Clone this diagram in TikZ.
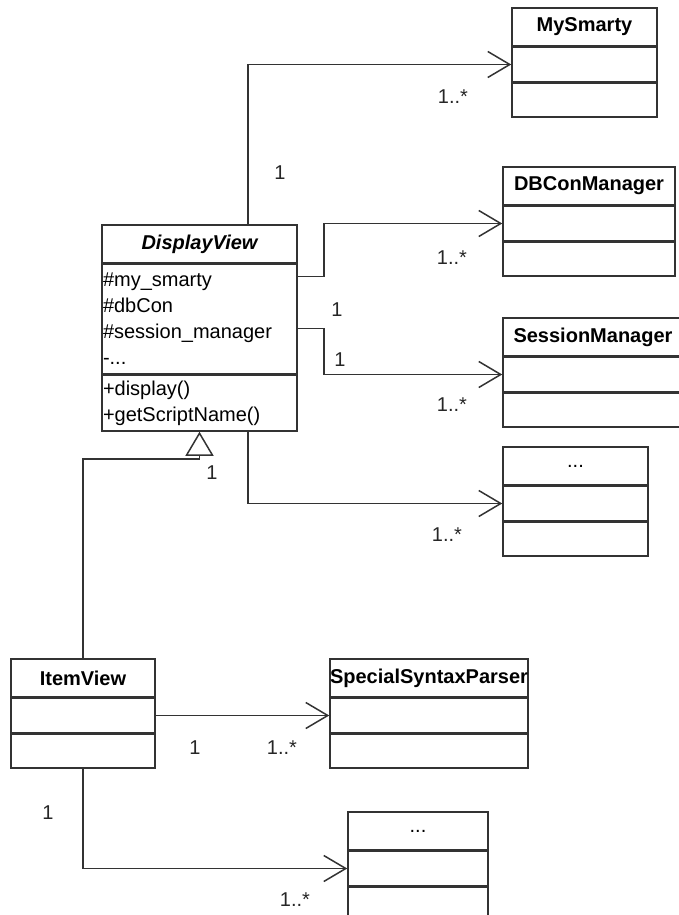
\documentclass[tikz,border=0pt]{standalone}
\usepackage{fontspec}
\setmainfont{Liberation Sans}
\usetikzlibrary{positioning,arrows.meta}
\begin{document}
\begin{tikzpicture}[
  x=1pt, y=-1pt,
  line width=1.5pt, draw=black!80,
  font=\fontsize{20}{26}\selectfont,
  head/.style={draw, font=\fontsize{20}{26}\selectfont\bfseries, inner sep=0pt, minimum height=38pt},
  part/.style={draw, inner sep=0pt, minimum height=34pt},
  assoc/.style={-{Straight Barb[length=22pt,width=26pt]}},
  inherit/.style={-{Triangle[open,length=24pt,width=28pt,fill=white]}},
  mult/.style={inner sep=1pt, text=black!85}
]
\useasboundingbox (0,0) rectangle (678,915);

\node[head, minimum width=145pt] (mysmarty) at (584.5,27) {MySmarty};
\node[part, minimum width=145pt, below=0pt of mysmarty] (mysmarty-a) {};
\node[part, minimum width=145pt, below=0pt of mysmarty-a] (mysmarty-o) {};

\node[head, minimum width=172pt] (dbcon) at (589,186) {DBConManager};
\node[part, minimum width=172pt, below=0pt of dbcon] (dbcon-a) {};
\node[part, minimum width=172pt, below=0pt of dbcon-a] (dbcon-o) {};

\node[head, minimum width=180pt] (session) at (593,337) {SessionManager};
\node[part, minimum width=180pt, below=0pt of session] (session-a) {};
\node[part, minimum width=180pt, below=0pt of session-a] (session-o) {};

\node[head, minimum width=145pt, font=\fontsize{20}{26}\selectfont] (dots1) at (575.5,466) {...};
\node[part, minimum width=145pt, below=0pt of dots1] (dots1-a) {};
\node[part, minimum width=145pt, below=0pt of dots1-a] (dots1-o) {};

\node[head, minimum width=195pt, font=\fontsize{20}{26}\selectfont\bfseries\itshape] (dview) at (199.5,244) {DisplayView};
\node[draw, below=0pt of dview, inner xsep=1pt, inner ysep=0pt, text width=193pt, align=left, minimum height=109pt] (dview-a)
  {\#my\_smarty\\\#dbCon\\\#session\_manager\\-...};
\node[draw, below=0pt of dview-a, inner xsep=1pt, inner ysep=0pt, text width=193pt, align=left, minimum height=56pt] (dview-o)
  {+display()\\+getScriptName()};

\node[head, minimum width=144pt] (item) at (83,678) {ItemView};
\node[part, minimum width=144pt, below=0pt of item] (item-a) {};
\node[part, minimum width=144pt, below=0pt of item-a] (item-o) {};

\node[head, minimum width=198pt] (ssp) at (429,678) {SpecialSyntaxParser};
\node[part, minimum width=198pt, below=0pt of ssp] (ssp-a) {};
\node[part, minimum width=198pt, below=0pt of ssp-a] (ssp-o) {};

\node[head, minimum width=140pt, font=\fontsize{20}{26}\selectfont] (dots2) at (418,831) {...};
\node[part, minimum width=140pt, below=0pt of dots2] (dots2-a) {};
\node[part, minimum width=140pt, below=0pt of dots2-a] (dots2-o) {};

\draw[assoc] ([xshift=48.5pt]dview.north) |- (mysmarty-a.west);
\draw[assoc] ([yshift=42.5pt]dview-a.east) -- ++(26,0) |- (dbcon-a.west);
\draw[assoc] ([yshift=-9.5pt]dview-a.east) -- ++(26,0) |- (session-a.west);
\draw[assoc] ([xshift=48.5pt]dview-o.south) |- (dots1-a.west);
\draw[inherit] (item.north) |- ([yshift=-27pt]dview-o.south) -- (dview-o.south);
\draw[assoc] (item-a.east) -- (ssp-a.west);
\draw[assoc] (item-o.south) |- (dots2-a.west);

\node[mult] (smarty-src) at (280,173) {1};
\node[mult] (smarty-dst) at (453,97) {1..*};
\node[mult] (dbcon-src) at (337,310) {1};
\node[mult] (dbcon-dst) at (452,258) {1..*};
\node[mult] (session-src) at (340,360) {1};
\node[mult] (session-dst) at (452,405) {1..*};
\node[mult] (dots1-src) at (212,473) {1};
\node[mult] (dots1-dst) at (447,535) {1..*};
\node[mult] (ssp-src) at (195,748) {1};
\node[mult] (ssp-dst) at (282,748) {1..*};
\node[mult] (dots2-src) at (48,813) {1};
\node[mult] (dots2-dst) at (295,900) {1..*};
\end{tikzpicture}
\end{document}
